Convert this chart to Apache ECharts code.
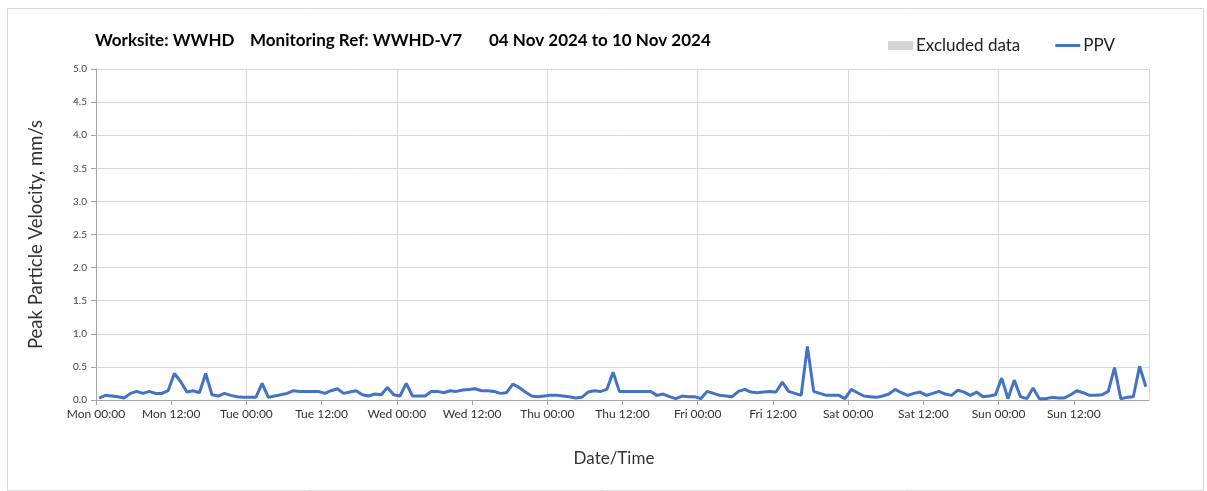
<!DOCTYPE html>
<html>
<head>
<meta charset="utf-8">
<script src="https://cdn.jsdelivr.net/npm/echarts@6/dist/echarts.min.js"></script>
<style>
html,body{margin:0;padding:0;background:#fff;}
#chart{width:1207px;height:491px;}
</style>
</head>
<body>
<div id="chart"></div>
<script>
// ---- data ----
const dayNames = ['Mon','Tue','Wed','Thu','Fri','Sat','Sun'];
const timeLabels = ['00:00','12:00'];
const titleParts = ['Worksite: WWHD', 'Monitoring Ref: WWHD-V7', '04 Nov 2024 to 10 Nov 2024'];
const legendNames = ['Excluded data', 'PPV'];
// hourly PPV values (mm/s), Mon 00:00 .. Sun 23:00, plotted mid-hour
const ppvMon = [0.03,0.07,0.06,0.05,0.03,0.10,0.13,0.10,0.13,0.10,0.10,0.14,0.40,0.28,0.12,0.14,0.11,0.40,0.08,0.06,0.10,0.07,0.05,0.04];
const ppvTue = [0.04,0.04,0.25,0.04,0.06,0.08,0.10,0.14,0.13,0.13,0.13,0.13,0.10,0.14,0.17,0.10,0.12,0.14,0.08,0.06,0.09,0.08,0.19,0.08];
const ppvWed = [0.06,0.25,0.06,0.06,0.06,0.13,0.13,0.11,0.14,0.13,0.15,0.16,0.17,0.14,0.14,0.13,0.10,0.11,0.24,0.19,0.12,0.06,0.05,0.06];
const ppvThu = [0.07,0.07,0.06,0.05,0.03,0.04,0.12,0.14,0.13,0.16,0.42,0.13,0.13,0.13,0.13,0.13,0.13,0.07,0.09,0.05,0.02,0.06,0.05,0.05];
const ppvFri = [0.02,0.13,0.10,0.07,0.06,0.05,0.13,0.16,0.12,0.11,0.12,0.13,0.12,0.27,0.13,0.10,0.07,0.81,0.13,0.10,0.07,0.07,0.07,0.02];
const ppvSat = [0.16,0.11,0.06,0.05,0.04,0.06,0.09,0.16,0.11,0.07,0.10,0.12,0.07,0.10,0.13,0.09,0.07,0.15,0.12,0.07,0.12,0.05,0.06,0.08];
const ppvSun = [0.33,0.02,0.30,0.05,0.02,0.18,0.02,0.02,0.04,0.03,0.03,0.08,0.14,0.11,0.07,0.07,0.08,0.13,0.49,0.02,0.04,0.05,0.51,0.20];

const ppvAll = [].concat(ppvMon, ppvTue, ppvWed, ppvThu, ppvFri, ppvSat, ppvSun);
const ppvData = ppvAll.map((v, i) => [i + 0.5, v]);

const chart = echarts.init(document.getElementById('chart'));
const FONT = 'Lato';
const option = {
  animation: false,
  backgroundColor: '#fff',
  textStyle: { fontFamily: FONT },
  graphic: [
    { type: 'rect', shape: { x: 7.5, y: 8.5, width: 1196, height: 482 }, style: { fill: 'none', stroke: '#d9d9d9', lineWidth: 1 }, silent: true },
    { type: 'text', left: 95, top: 32, style: { text: titleParts[0], font: 'bold 17px ' + FONT, fill: '#000' } },
    { type: 'text', left: 250, top: 32, style: { text: titleParts[1], font: 'bold 17px ' + FONT, fill: '#000' } },
    { type: 'text', left: 489, top: 32, style: { text: titleParts[2], font: 'bold 17px ' + FONT, fill: '#000' } }
  ],
  legend: {
    left: 883, top: 32,
    itemWidth: 25, itemHeight: 9, itemGap: 35,
    textStyle: { fontSize: 17, color: '#222', fontFamily: FONT, padding: [0,0,0,-2] },
    data: [
      { name: legendNames[0], icon: 'rect' },
      { name: legendNames[1], icon: 'path://M0,0H25V3H0Z' }
    ]
  },
  grid: { left: 96, right: 58, top: 69, bottom: 91, containLabel: false },
  xAxis: [
    {
      type: 'value', min: 0, max: 168, interval: 12,
      name: 'Date/Time', nameLocation: 'middle', nameGap: 50,
      nameTextStyle: { fontSize: 17, color: '#333', fontFamily: FONT, padding: [0, 17, 0, 0] },
      axisLine: { show: true, lineStyle: { color: '#a6a6a6', width: 1 } },
      axisTick: { show: true, length: 5, lineStyle: { color: '#a6a6a6' } },
      axisLabel: {
        fontSize: 12, color: '#333', margin: 8, fontFamily: FONT, showMaxLabel: false,
        formatter: v => v >= 168 ? '' : dayNames[Math.floor(v / 24)] + ' ' + timeLabels[(v % 24) / 12]
      },
      splitLine: { show: false }
    },
    {
      type: 'value', min: 0, max: 168, interval: 24, position: 'bottom',
      axisLine: { show: false }, axisTick: { show: false }, axisLabel: { show: false },
      splitLine: { show: true, lineStyle: { color: '#d9d9d9', width: 1 } }
    }
  ],
  yAxis: {
    type: 'value', min: 0, max: 5, interval: 0.5,
    name: 'Peak Particle Velocity, mm/s', nameLocation: 'middle', nameGap: 50,
    nameTextStyle: { fontSize: 18.5, color: '#333', fontFamily: FONT },
    axisLine: { show: true, lineStyle: { color: '#a6a6a6', width: 1 } },
    axisTick: { show: true, length: 5, lineStyle: { color: '#a6a6a6' } },
    axisLabel: { fontSize: 10, color: '#444', margin: 9, fontFamily: FONT, formatter: v => v.toFixed(1) },
    splitLine: { show: true, lineStyle: { color: '#d9d9d9', width: 1 } }
  },
  series: [
    { name: legendNames[0], type: 'line', data: [], itemStyle: { color: '#d3d3d3' }, showSymbol: false },
    {
      name: legendNames[1], type: 'line', data: ppvData, xAxisIndex: 0,
      showSymbol: false, symbol: 'none',
      lineStyle: { color: '#4472C4', width: 3 }, itemStyle: { color: '#4472C4' }
    }
  ]
};
chart.setOption(option);
</script>
</body>
</html>
